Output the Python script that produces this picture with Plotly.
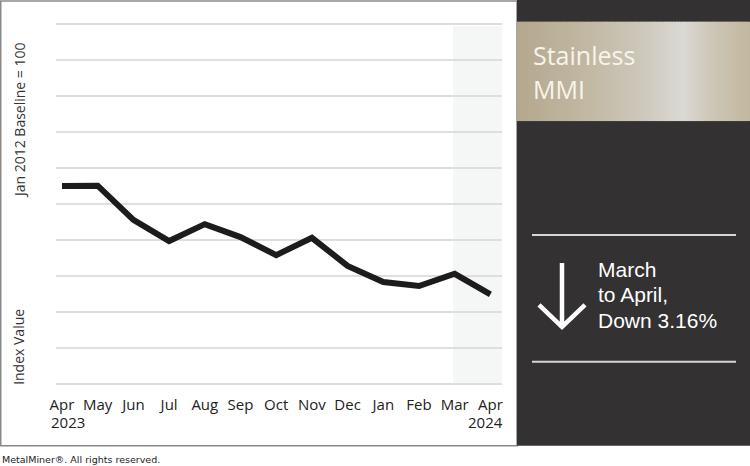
import plotly.graph_objects as go

# ---- data ----
months = ["Apr", "May", "Jun", "Jul", "Aug", "Sep", "Oct", "Nov", "Dec", "Jan", "Feb", "Mar", "Apr"]
years = ["2023", "2024"]
index_values = [205.0, 205.1, 195.6, 189.7, 194.4, 190.8, 185.8, 190.6, 182.8, 178.3, 177.2, 180.6, 174.9]
y_min, y_max, y_step = 150, 250, 10

title_lines = ["Stainless", "MMI"]
change_lines = ["March", "to April,", "Down 3.16%"]
axis_title_top = "Jan 2012 Baseline = 100"
axis_title_bottom = "Index Value"
footer = "MetalMiner®. All rights reserved."

# ---- layout geometry (pixels) ----
W, H = 750, 466
GRID_TOP, GRID_BOT = 24, 384           # pixel rows of top / bottom gridline
pad_units = 0.6
unit_px = (GRID_BOT - GRID_TOP) / (y_max - y_min)
L, R = 56, 502
T = GRID_TOP - pad_units * unit_px
B = GRID_BOT + pad_units * unit_px
PW, PH = R - L, B - T


def px(x):
    return (x - L) / PW


def py(y):
    return (B - y) / PH


x_idx = list(range(len(months)))
x0_px, step_px = 62, 35.7
x_range = [(L - x0_px) / step_px, (R - x0_px) / step_px]

fig = go.Figure()
fig.add_trace(go.Scatter(
    x=x_idx, y=index_values, mode="lines",
    line=dict(color="#1c1c1c", width=6),
    hoverinfo="skip", showlegend=False,
))

shapes = []
# outer frame
shapes.append(dict(type="rect", xref="paper", yref="paper",
                   x0=px(0.75), x1=px(517), y0=py(0.75), y1=py(446),
                   line=dict(color="#8a8a8a", width=1.5), fillcolor="rgba(0,0,0,0)", layer="above"))
# shaded latest period
shapes.append(dict(type="rect", xref="paper", yref="paper",
                   x0=px(453), x1=1, y0=py(GRID_BOT), y1=py(26),
                   line=dict(width=0), fillcolor="#f5f6f6", layer="below"))
# dark panel
shapes.append(dict(type="rect", xref="paper", yref="paper",
                   x0=px(517), x1=px(751), y0=py(-1), y1=py(446),
                   line=dict(width=0), fillcolor="#333132", layer="above"))
# metallic banner gradient (decorative strips)
stops = [(517, (180, 168, 142)), (580, (192, 182, 160)), (640, (205, 199, 186)),
         (684, (219, 217, 212)), (712, (205, 198, 182)), (751, (194, 182, 158))]


def col_at(x):
    for (xa, ca), (xb, cb) in zip(stops[:-1], stops[1:]):
        if xa <= x <= xb:
            t = (x - xa) / (xb - xa)
            return "rgb(%d,%d,%d)" % tuple(round(a + (b - a) * t) for a, b in zip(ca, cb))
    return "rgb(%d,%d,%d)" % stops[-1][1]


n_strips = 78
sw = (751 - 517) / n_strips
for i in range(n_strips):
    xa = 517 + i * sw
    shapes.append(dict(type="rect", xref="paper", yref="paper",
                       x0=px(xa), x1=px(xa + sw + 0.6), y0=py(121), y1=py(21.5),
                       line=dict(width=0), fillcolor=col_at(xa + sw / 2), layer="above"))
# separator lines
for yy in (235, 362):
    shapes.append(dict(type="line", xref="paper", yref="paper",
                       x0=px(532), x1=px(736), y0=py(yy), y1=py(yy),
                       line=dict(color="#d6d6d6", width=2), layer="above"))
# down arrow
arrow = "M {a},{b} L {a},{c} M {d},{e} L {a},{c} L {f},{e}".format(
    a=px(562), b=py(263), c=py(327), d=px(539), e=py(305), f=px(585))
shapes.append(dict(type="path", xref="paper", yref="paper", path=arrow,
                   line=dict(color="#ffffff", width=4.5), layer="above"))

annotations = []
# year labels under first / last month
annotations.append(dict(x=0, y=py(422), xref="x", yref="paper", text=years[0],
                        showarrow=False, xanchor="left", yanchor="middle", xshift=-13,
                        font=dict(family="Open Sans", size=15, color="#222222")))
annotations.append(dict(x=len(months) - 1, y=py(422), xref="x", yref="paper", text=years[1],
                        showarrow=False, xanchor="right", yanchor="middle", xshift=15,
                        font=dict(family="Open Sans", size=15, color="#222222")))
# y-axis titles
annotations.append(dict(x=px(19), y=py(120), xref="paper", yref="paper", text=axis_title_top,
                        showarrow=False, textangle=-90, xanchor="center", yanchor="middle",
                        font=dict(family="Open Sans", size=14, color="#333333")))
annotations.append(dict(x=px(19), y=py(347), xref="paper", yref="paper", text=axis_title_bottom,
                        showarrow=False, textangle=-90, xanchor="center", yanchor="middle",
                        font=dict(family="Open Sans", size=14, color="#333333")))
# panel title
for txt, yy in zip(title_lines, (55, 89)):
    annotations.append(dict(x=px(531), y=py(yy), xref="paper", yref="paper", text=txt,
                            showarrow=False, xanchor="left", yanchor="middle",
                            font=dict(family="Open Sans", size=25, color="#f7f4ec")))
# change text
for txt, yy in zip(change_lines, (270, 295, 321)):
    annotations.append(dict(x=px(596), y=py(yy), xref="paper", yref="paper", text=txt,
                            showarrow=False, xanchor="left", yanchor="middle",
                            font=dict(family="Liberation Sans", size=21, color="#ffffff")))
# footer
annotations.append(dict(x=px(0), y=py(460), xref="paper", yref="paper", text=footer,
                        showarrow=False, xanchor="left", yanchor="middle",
                        font=dict(family="DejaVu Sans", size=9.5, color="#222222")))

fig.update_layout(
    width=W, height=H,
    margin=dict(l=L, r=W - R, t=T, b=H - B, pad=0),
    paper_bgcolor="#ffffff", plot_bgcolor="rgba(0,0,0,0)",
    shapes=shapes, annotations=annotations,
    xaxis=dict(range=x_range, tickvals=x_idx, ticktext=months, showgrid=False,
               zeroline=False, showline=False, ticks="outside", ticklen=5,
               tickcolor="rgba(0,0,0,0)", fixedrange=True,
               tickfont=dict(family="Open Sans", size=15, color="#222222")),
    yaxis=dict(range=[y_min - pad_units, y_max + pad_units], dtick=y_step, tick0=y_min,
               showticklabels=False, showgrid=True, gridcolor="#dedede", gridwidth=1.5,
               zeroline=False, showline=False, fixedrange=True),
)

fig.write_html("out.html")
